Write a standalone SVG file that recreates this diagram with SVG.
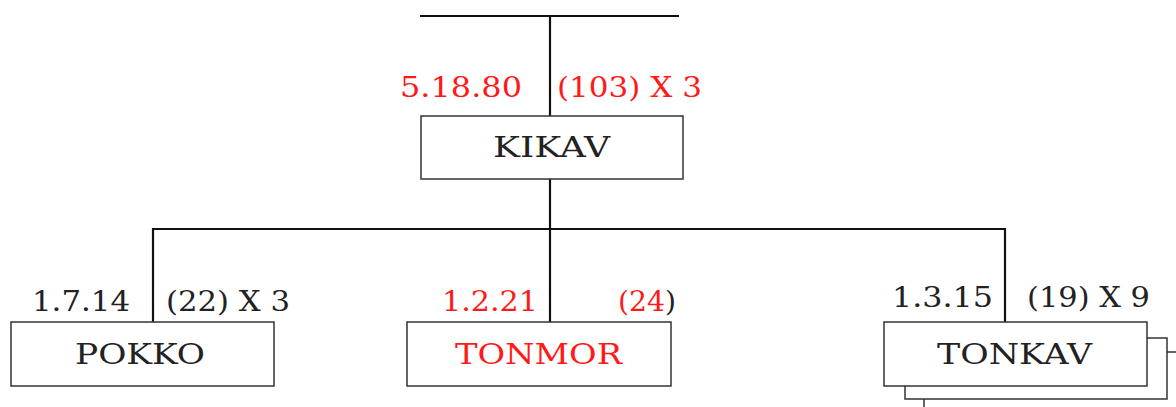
<svg xmlns="http://www.w3.org/2000/svg" width="1176" height="407" viewBox="0 0 1176 407">
  <style>
    .box { fill: #fff; stroke: #333; stroke-width: 1.5; }
    .wire { fill: none; stroke: #111; stroke-width: 2.2; }
    text { font-family: "DejaVu Serif", "Liberation Serif", serif; font-size: 27px; fill: #222; }
    .name { font-size: 28px; }
    .red { fill: #ff1a1a; }
  </style>

  <g id="connectors">
    <line class="wire" x1="420" y1="16" x2="679" y2="16"/>
    <line class="wire" x1="550" y1="16" x2="550" y2="116"/>
    <line class="wire" x1="550" y1="179" x2="550" y2="229"/>
    <line class="wire" x1="152" y1="229" x2="1006" y2="229"/>
    <line class="wire" x1="153" y1="228" x2="153" y2="322"/>
    <line class="wire" x1="550" y1="229" x2="550" y2="322"/>
    <line class="wire" x1="1005" y1="228" x2="1005" y2="322"/>
  </g>

  <g id="kikav">
    <rect class="box" x="421" y="116" width="262" height="63"/>
    <text class="name" x="493" y="157" textLength="117" lengthAdjust="spacingAndGlyphs">KIKAV</text>
    <text class="red" x="400" y="97" textLength="122" lengthAdjust="spacingAndGlyphs">5.18.80</text>
    <text class="red" x="557" y="97" textLength="145" lengthAdjust="spacingAndGlyphs">(103) X 3</text>
  </g>

  <g id="pokko">
    <rect class="box" x="11" y="322" width="263" height="64"/>
    <text class="name" x="75" y="364" textLength="130" lengthAdjust="spacingAndGlyphs">POKKO</text>
    <text x="32" y="311" textLength="98" lengthAdjust="spacingAndGlyphs">1.7.14</text>
    <text x="166" y="311" textLength="124" lengthAdjust="spacingAndGlyphs">(22) X 3</text>
  </g>

  <g id="tonmor">
    <rect class="box" x="407" y="322" width="264" height="64"/>
    <text class="name red" x="455" y="364" textLength="167" lengthAdjust="spacingAndGlyphs">TONMOR</text>
    <text class="red" x="442" y="311" textLength="96" lengthAdjust="spacingAndGlyphs">1.2.21</text>
    <text x="618" y="311" textLength="58" lengthAdjust="spacingAndGlyphs"><tspan class="red">(24</tspan>)</text>
  </g>

  <g id="tonkav">
    <rect class="box" x="924" y="352" width="263" height="62"/>
    <rect class="box" x="905" y="338" width="262" height="61"/>
    <rect class="box" x="884" y="322" width="263" height="64"/>
    <text class="name" x="937" y="364" textLength="155" lengthAdjust="spacingAndGlyphs">TONKAV</text>
    <text x="892" y="307" textLength="101" lengthAdjust="spacingAndGlyphs">1.3.15</text>
    <text x="1027" y="307" textLength="123" lengthAdjust="spacingAndGlyphs">(19) X 9</text>
  </g>
</svg>
